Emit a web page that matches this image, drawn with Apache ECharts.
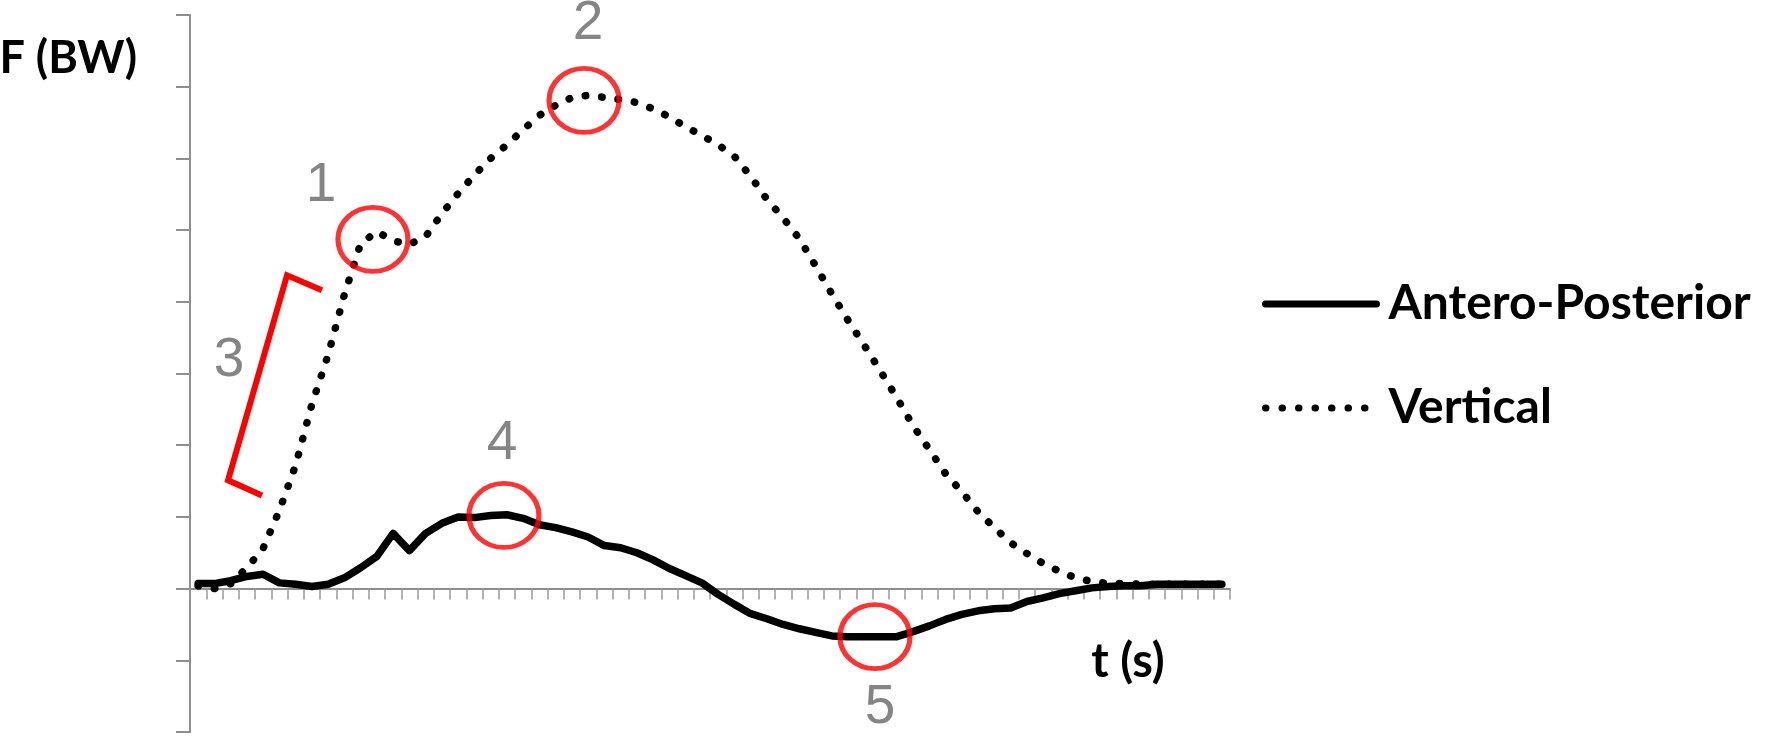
<!DOCTYPE html>
<html><head><meta charset="utf-8">
<script src="https://cdn.jsdelivr.net/npm/echarts@6/dist/echarts.min.js"></script>
<style>html,body{margin:0;padding:0;background:#fff}#c{width:1792px;height:737px}</style>
</head><body><div id="c"></div>
<script>
// time samples (no tick labels shown in the original)
const categories = ['1','2','3','4','5','6','7','8','9','10','11','12','13','14','15','16',
  '17','18','19','20','21','22','23','24','25','26','27','28','29','30','31','32',
  '33','34','35','36','37','38','39','40','41','42','43','44','45','46','47','48',
  '49','50','51','52','53','54','55','56','57','58','59','60','61','62','63','64'];

// force, in y-axis tick units
const anteroPosterior = [0.07,0.07,0.11,0.17,0.20,0.08,0.06,0.03,0.06,0.15,0.29,0.45,0.77,0.53,0.77,0.91,
  1.00,0.99,1.02,1.03,0.98,0.89,0.85,0.79,0.72,0.60,0.57,0.50,0.40,0.28,0.18,0.08,
  -0.08,-0.22,-0.35,-0.42,-0.50,-0.56,-0.61,-0.66,-0.67,-0.67,-0.67,-0.67,-0.60,-0.52,-0.43,-0.36,
  -0.31,-0.28,-0.27,-0.18,-0.13,-0.07,-0.03,0.01,0.03,0.04,0.04,0.06,0.06,0.06,0.06,0.06];

const vertical = [0.04,0.00,0.07,0.29,0.56,1.09,1.72,2.57,3.26,4.10,4.81,4.98,4.85,4.80,4.91,5.23,
  5.51,5.77,6.00,6.19,6.40,6.60,6.74,6.85,6.88,6.85,6.82,6.78,6.69,6.58,6.44,6.32,
  6.19,6.03,5.75,5.43,5.17,4.88,4.50,4.11,3.74,3.39,3.03,2.66,2.27,1.94,1.60,1.35,
  1.07,0.85,0.64,0.49,0.35,0.24,0.15,0.10,0.07,0.07,0.06,0.06,0.06,0.06,0.06,0.06];

// y axis ticks
const yMin = -2, yMax = 8, yStep = 1;

// annotations (positions on a 0..64 time scale)
const circleX = [11.26, 24.25, 19.32, 42.15];
const circleY = [4.87, 6.81, 1.02, -0.67];
const numberText = ['1','2','3','4','5'];
const numberX = [8.06, 24.49, 2.40, 19.20, 42.46];
const numberY = [5.62, 7.87, 3.18, 2.02, -1.66];
const bracketX = [8.12, 5.97, 2.34, 4.43];
const bracketY = [4.16, 4.37, 1.51, 1.30];

const titleFont = 'Lato';
const chart = echarts.init(document.getElementById('c'), null, {renderer: 'canvas'});
chart.setOption({
  animation: false,
  backgroundColor: '#ffffff',
  grid: {left: 190, right: 562, top: 15, bottom: 5, containLabel: false, outerBoundsMode: 'none'},
  legend: {
    data: ['Antero-Posterior', 'Vertical'],
    orient: 'vertical', left: 1257, top: 267,
    itemWidth: 111, itemHeight: 14, itemGap: 40,
    selectedMode: false,
    itemStyle: {color: 'rgba(0,0,0,0)', borderWidth: 0},
    lineStyle: {width: 7, cap: 'round'},
    textStyle: {fontFamily: titleFont, fontWeight: 'bold', fontSize: 48, color: '#000', lineHeight: 50, padding: [14, 0, 0, 7]}
  },
  xAxis: [{
    type: 'category', data: categories, boundaryGap: true,
    axisLine: {show: true, onZero: true, lineStyle: {color: '#8e8e8e', width: 2}},
    axisTick: {show: true, interval: 0, length: 11, lineStyle: {color: '#9a9a9a', width: 1.5}},
    axisLabel: {show: false}, splitLine: {show: false},
    name: 't (s)', nameLocation: 'end', nameGap: -102,
    nameTextStyle: {fontFamily: titleFont, fontWeight: 'bold', fontSize: 47, color: '#000', align: 'center', verticalAlign: 'top', lineHeight: 48, padding: [49, 0, 0, 0]}
  }, {
    type: 'value', min: 0, max: 64, show: false
  }],
  yAxis: {
    type: 'value', min: yMin, max: yMax, interval: yStep,
    axisLine: {show: true, onZero: false, lineStyle: {color: '#8e8e8e', width: 2}},
    axisTick: {show: true, length: 14, lineStyle: {color: '#8e8e8e', width: 2}},
    axisLabel: {show: false}, splitLine: {show: false},
    name: 'F (BW)', nameLocation: 'end', nameGap: -43,
    nameTextStyle: {fontFamily: titleFont, fontWeight: 'bold', fontSize: 45, color: '#000', align: 'right', verticalAlign: 'middle', padding: [0, 53, 0, 0]}
  },
  series: [{
    name: 'Antero-Posterior', type: 'line', data: anteroPosterior,
    symbol: 'none', showSymbol: false, z: 3,
    lineStyle: {color: '#000', width: 7.5, cap: 'round', join: 'round'},
    itemStyle: {color: '#000'}
  }, {
    name: 'Vertical', type: 'line', data: vertical,
    symbol: 'none', showSymbol: false, z: 2,
    lineStyle: {color: '#000', width: 7.5, type: [0.5, 16], cap: 'round', join: 'round'},
    itemStyle: {color: '#000'}
  }, {
    name: 'bracket', type: 'line', xAxisIndex: 1, z: 4, silent: true,
    data: bracketX.map((x, i) => [x, bracketY[i]]),
    symbol: 'none', showSymbol: false,
    lineStyle: {color: '#ff0000', width: 6, join: 'miter'}
  }, {
    name: 'circles', type: 'scatter', xAxisIndex: 1, z: 5, silent: true,
    data: circleX.map((x, i) => [x, circleY[i]]),
    symbol: 'circle', symbolSize: [70, 64],
    itemStyle: {color: 'rgba(0,0,0,0)', borderColor: '#ff0000', borderWidth: 5}
  }, {
    name: 'numbers', type: 'scatter', xAxisIndex: 1, z: 5, silent: true,
    data: numberX.map((x, i) => ({name: numberText[i], value: [x, numberY[i]]})),
    symbolSize: 1, itemStyle: {color: 'rgba(0,0,0,0)'},
    label: {show: true, position: 'inside', formatter: '{b}', fontFamily: 'Liberation Sans', fontSize: 55, color: '#666666'}
  }]
});
</script></body></html>
